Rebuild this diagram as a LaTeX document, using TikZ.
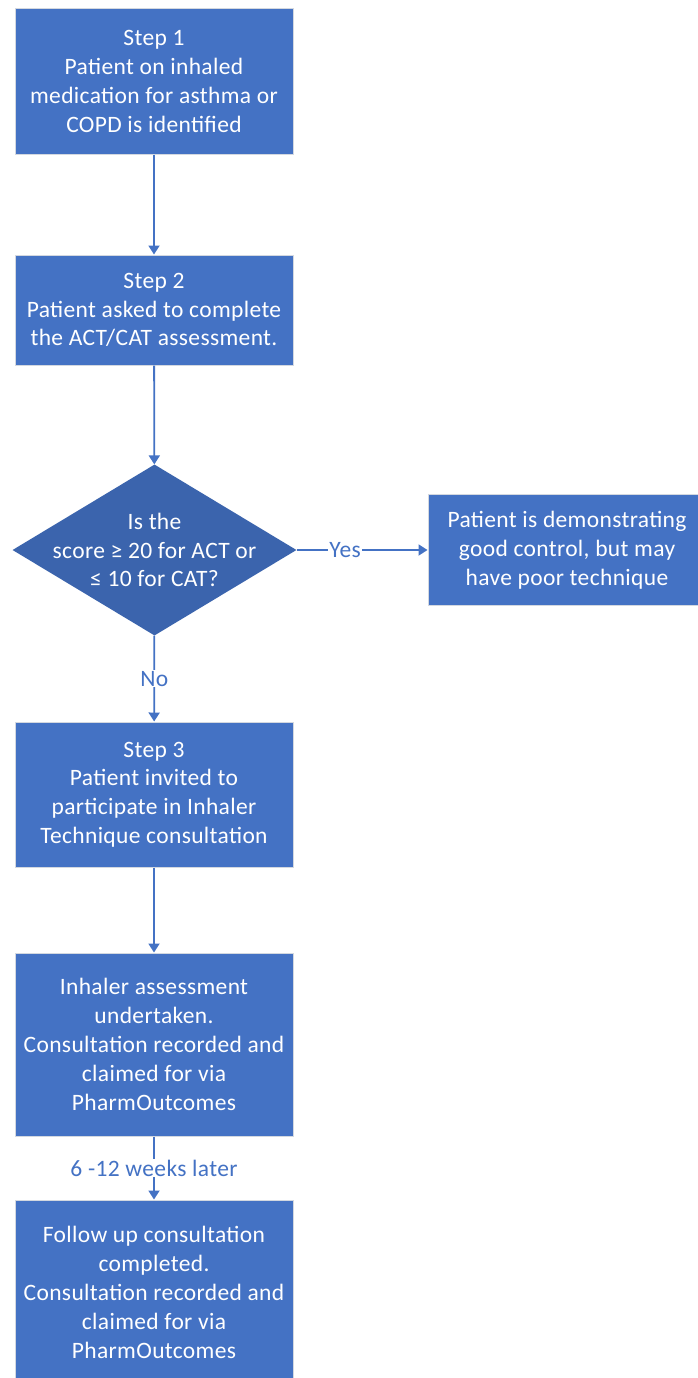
\documentclass[tikz,border=0pt]{standalone}
\usepackage{fontspec}
\setmainfont{Carlito}[LetterSpace=1.5]
\usetikzlibrary{shapes.geometric,arrows.meta}
\definecolor{boxblue}{HTML}{4472C4}
\definecolor{darkblue}{HTML}{3B64AD}
\definecolor{edgegray}{HTML}{D3D8E0}
\begin{document}
\begin{tikzpicture}[x=1pt,y=-1pt,
  txt/.style={font=\fontsize{23.5}{28.8}\selectfont},
  stepbox/.style={rectangle, fill=boxblue, draw=edgegray, line width=1pt, text=white, align=center, txt, minimum width=278pt, inner sep=0pt},
  conn/.style={draw=boxblue, line width=1.8pt, -{Triangle[width=11pt,length=9pt]}},
  lbl/.style={fill=white, text=boxblue, txt, inner sep=1pt}]
\clip (0,0) rectangle (698,1378);
\fill[white] (0,0) rectangle (698,1378);
\node[stepbox, minimum height=145pt] (s1) at (154,81.5) {Step 1\\Patient on inhaled\\medication for asthma or\\COPD is identified};
\node[stepbox, minimum height=110pt] (s2) at (154,310) {Step 2\\Patient asked to complete\\the ACT/CAT assessment.};
\node[diamond, fill=darkblue, minimum width=284pt, minimum height=171pt, inner sep=0pt] (dec) at (154.5,550) {};
\node[txt, text=white, align=center] (dect) at (dec.center) {Is the\\score ≥ 20 for ACT or\\≤ 10 for CAT?};
\node[stepbox, minimum height=111pt] (good) at (567,550) {Patient is demonstrating\\good control, but may\\have poor technique};
\node[stepbox, minimum height=145pt] (s3) at (154,794.5) {Step 3\\Patient invited to\\participate in Inhaler\\Technique consultation};
\node[stepbox, minimum height=183pt] (s4) at (154,1044.5) {Inhaler assessment\\undertaken.\\Consultation recorded and\\claimed for via\\PharmOutcomes};
\node[stepbox, minimum height=185pt] (s5) at (154,1292.5) {Follow up consultation\\completed.\\Consultation recorded and\\claimed for via\\PharmOutcomes};
\draw[conn] (s1) -- (s2);
\draw[conn] (s2) -- (dec);
\draw[conn] (dec) -- node[lbl, pos=0.37] (yes) {Yes} (good);
\draw[conn] (dec) -- node[lbl] (no) {No} (s3);
\draw[conn] (s3) -- (s4);
\draw[conn] (s4) -- node[lbl] (wk) {6 -12 weeks later} (s5);
\end{tikzpicture}
\end{document}
